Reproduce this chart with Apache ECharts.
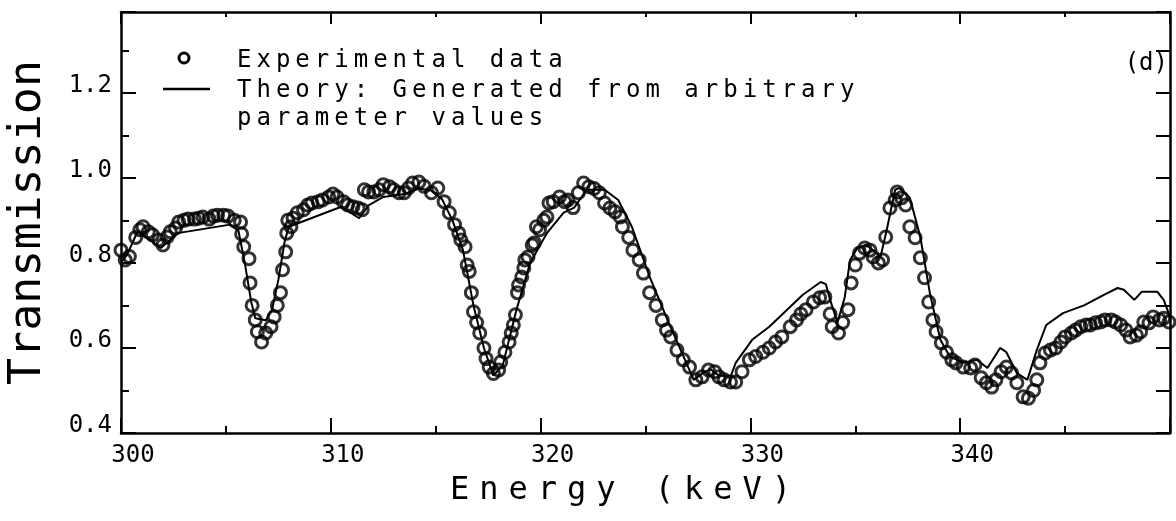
<!DOCTYPE html>
<html lang="en">
<head>
<meta charset="UTF-8">
<title>Transmission (d)</title>
<script src="https://cdn.jsdelivr.net/npm/echarts@6/dist/echarts.min.js"></script>
<style>html,body{margin:0;padding:0;background:#fff}</style>
</head>
<body>
<div id="main" style="width:1176px;height:521px"></div>
<script type="text/javascript">
// canvas text has no letter spacing option in echarts, so a dummy family "lsN" in the font means N px
var _fillText = CanvasRenderingContext2D.prototype.fillText;
CanvasRenderingContext2D.prototype.fillText = function () {
    var m = /ls(\d+)/.exec(this.font);
    this.letterSpacing = m ? m[1] + 'px' : '0px';
    return _fillText.apply(this, arguments);
};
function fam(ls) { return '"DejaVu Sans Mono", ls' + ls; }

// experimental points (keV, transmission)
var expE = [300.0,300.2,300.4,300.7,300.9,301.05,301.3,301.5,301.8,302.0,302.2,302.35,302.6,302.75,303.0,303.2,303.5,303.7,303.9,304.2,304.4,304.6,304.9,305.1,305.4,305.7,305.75,305.85,306.1,306.15,306.25,306.4,306.5,306.7,306.9,307.15,307.3,307.45,307.6,307.7,307.85,307.9,307.95,308.1,308.2,308.4,308.7,308.9,309.1,309.4,309.6,309.9,310.1,310.3,310.6,310.8,311.05,311.3,311.5,311.6,311.8,312.05,312.3,312.5,312.8,313.0,313.25,313.5,313.7,313.9,314.2,314.45,314.8,315.1,315.4,315.65,315.9,316.1,316.2,316.4,316.5,316.6,316.7,316.8,316.95,317.1,317.3,317.4,317.55,317.75,318.0,318.1,318.3,318.5,318.6,318.7,318.8,318.9,318.95,319.1,319.2,319.25,319.4,319.6,319.7,319.8,319.95,320.15,320.3,320.4,320.6,320.9,321.15,321.3,321.55,321.8,322.05,322.3,322.55,322.8,323.05,323.3,323.55,323.8,323.9,324.2,324.4,324.7,324.9,325.2,325.5,325.8,326.0,326.2,326.5,326.8,327.1,327.4,327.7,328.0,328.3,328.5,328.75,329.05,329.3,329.6,329.95,330.25,330.6,330.9,331.2,331.5,331.9,332.2,332.4,332.65,333.0,333.3,333.55,333.8,333.9,334.2,334.4,334.65,334.8,335.0,335.2,335.45,335.7,335.85,336.1,336.3,336.45,336.65,336.9,337.0,337.2,337.4,337.6,337.85,338.1,338.3,338.5,338.7,338.85,339.1,339.35,339.6,339.8,340.15,340.5,340.7,341.0,341.25,341.5,341.7,341.95,342.2,342.45,342.7,343.0,343.25,343.5,343.65,343.8,344.05,344.3,344.55,344.8,345.0,345.3,345.5,345.75,346.0,346.2,346.45,346.7,346.9,347.2,347.4,347.65,347.9,348.1,348.4,348.6,348.75,349.0,349.2,349.5,349.7,349.95];
var expT = [0.83,0.807,0.815,0.86,0.878,0.885,0.873,0.866,0.854,0.842,0.861,0.873,0.882,0.896,0.90,0.903,0.903,0.905,0.908,0.903,0.91,0.912,0.912,0.91,0.90,0.896,0.868,0.838,0.81,0.753,0.70,0.666,0.638,0.614,0.635,0.65,0.673,0.70,0.73,0.784,0.826,0.87,0.90,0.885,0.905,0.918,0.925,0.936,0.941,0.944,0.948,0.955,0.962,0.955,0.944,0.936,0.932,0.929,0.925,0.972,0.967,0.967,0.972,0.984,0.979,0.972,0.965,0.965,0.976,0.988,0.99,0.98,0.965,0.976,0.944,0.918,0.89,0.87,0.854,0.838,0.795,0.78,0.73,0.685,0.66,0.635,0.60,0.575,0.555,0.54,0.548,0.567,0.59,0.614,0.635,0.654,0.678,0.73,0.748,0.767,0.788,0.807,0.814,0.842,0.847,0.885,0.878,0.90,0.908,0.941,0.944,0.955,0.944,0.948,0.93,0.965,0.988,0.979,0.975,0.965,0.941,0.929,0.92,0.908,0.885,0.86,0.83,0.807,0.776,0.73,0.70,0.666,0.642,0.626,0.595,0.572,0.555,0.525,0.532,0.548,0.544,0.532,0.525,0.52,0.52,0.544,0.572,0.58,0.59,0.60,0.614,0.626,0.65,0.666,0.68,0.69,0.708,0.718,0.72,0.68,0.65,0.635,0.66,0.69,0.753,0.795,0.823,0.835,0.83,0.814,0.80,0.807,0.861,0.929,0.948,0.967,0.953,0.936,0.885,0.859,0.812,0.765,0.708,0.666,0.638,0.612,0.59,0.572,0.565,0.555,0.553,0.56,0.53,0.518,0.508,0.525,0.544,0.555,0.541,0.518,0.485,0.482,0.50,0.525,0.565,0.588,0.595,0.60,0.614,0.626,0.635,0.642,0.65,0.654,0.654,0.659,0.661,0.666,0.666,0.661,0.654,0.642,0.626,0.63,0.638,0.661,0.659,0.673,0.666,0.67,0.661];

// theory curve
var thE = [300.0,300.3,300.8,301.9,302.7,305.2,305.6,305.9,306.2,306.4,306.9,307.2,307.5,307.8,308.0,310.5,311.35,311.8,312.5,313.5,314.2,314.8,315.3,315.8,316.3,316.8,317.3,317.75,318.2,318.85,319.5,320.3,321.1,321.6,322.2,323.05,323.7,324.35,325.2,326.1,327.3,327.7,328.1,328.5,329.05,329.3,330.1,330.9,332.5,333.35,333.6,333.8,334.15,334.5,334.75,335.1,335.5,335.85,336.2,336.5,336.9,337.1,337.6,338.1,338.55,339.05,339.5,340.15,340.8,341.3,341.9,342.2,342.7,343.2,343.65,344.1,344.9,345.9,346.85,347.5,347.8,348.3,348.65,349.4,349.7,350.0];
var thT = [0.80,0.82,0.875,0.835,0.87,0.89,0.875,0.80,0.71,0.67,0.665,0.69,0.76,0.85,0.885,0.932,0.905,0.935,0.955,0.962,0.975,0.97,0.95,0.90,0.83,0.70,0.60,0.535,0.56,0.69,0.80,0.87,0.918,0.93,0.972,0.972,0.948,0.885,0.767,0.66,0.525,0.54,0.55,0.535,0.532,0.565,0.62,0.65,0.725,0.755,0.75,0.713,0.66,0.72,0.807,0.835,0.842,0.83,0.814,0.878,0.972,0.976,0.953,0.861,0.73,0.62,0.58,0.565,0.572,0.553,0.60,0.59,0.541,0.525,0.595,0.654,0.682,0.70,0.725,0.741,0.737,0.713,0.732,0.732,0.713,0.673];

var legendRows = ['Experimental data', 'Theory: Generated from arbitrary', 'parameter values'];
var panelTag = '(d)';

var myChart = echarts.init(document.getElementById('main'));

var black = '#000';
function xAx(pos, showLabel) {
    return {
        type: 'value', position: pos, min: 300, max: 350, interval: 10,
        axisLine: {show: true, onZero: false, lineStyle: {color: black, width: 2.5}},
        axisTick: {show: true, inside: true, length: pos === 'bottom' ? 15 : 12, lineStyle: {color: black, width: 2}},
        minorTick: {show: true, splitNumber: 2, length: pos === 'bottom' ? 7 : 5, lineStyle: {color: black, width: 2}},
        splitLine: {show: false},
        axisLabel: {
            show: showLabel, color: black, fontSize: 24, fontFamily: fam(0), margin: 11,
            padding: [0, 0, 0, 24],
            formatter: function (v) { return v < 350 ? String(v) : ''; }
        }
    };
}
function yAx(pos, showLabel) {
    return {
        type: 'value', position: pos, min: 0.4, max: 1.39, interval: 0.2,
        axisLine: {show: true, onZero: false, lineStyle: {color: black, width: 2.5}},
        axisTick: {show: true, inside: true, length: pos === 'left' ? 15 : 14, lineStyle: {color: black, width: 2}},
        minorTick: {show: true, splitNumber: 2, length: pos === 'left' ? 8 : 14, lineStyle: {color: black, width: 2}},
        splitLine: {show: false},
        axisLabel: {
            show: showLabel, color: black, fontSize: 24, fontFamily: fam(0), margin: 9,
            verticalAlign: 'bottom', lineHeight: 14,
            formatter: function (v) { return v < 1.21 ? v.toFixed(1) : ''; }
        }
    };
}

var xBottom = xAx('bottom', true);
xBottom.name = 'Energy (keV)';
xBottom.nameLocation = 'middle';
xBottom.nameGap = 42;
xBottom.nameTextStyle = {color: black, fontSize: 32, fontFamily: fam(10), padding: [0, 40, 0, 0]};

var yLeft = yAx('left', true);
yLeft.name = 'Transmission';
yLeft.nameLocation = 'middle';
yLeft.nameGap = 70;
yLeft.nameTextStyle = {color: black, fontSize: 45, fontFamily: fam(0)};

myChart.setOption({
    animation: false,
    backgroundColor: '#fff',
    grid: {left: 121, right: 6, top: 12, bottom: 88, containLabel: false, outerBoundsMode: 'none'},
    xAxis: [xBottom, xAx('top', false)],
    yAxis: [yLeft, yAx('right', false)],
    series: [{
        name: 'Theory',
        type: 'line',
        data: thE.map(function (e, i) { return [e, thT[i]]; }),
        showSymbol: false,
        symbol: 'none',
        lineStyle: {color: black, width: 2},
        z: 2,
        silent: true
    }, {
        name: 'Experimental data',
        type: 'scatter',
        data: expE.map(function (e, i) { return [e, expT[i]]; }),
        symbol: 'circle',
        symbolSize: 12,
        clip: false,
        itemStyle: {color: 'rgba(0,0,0,0)', borderColor: black, borderWidth: 3},
        z: 3,
        silent: true
    }],
    graphic: [
        {type: 'circle', shape: {cx: 184, cy: 58, r: 5}, style: {fill: 'none', stroke: black, lineWidth: 3}},
        {type: 'line', shape: {x1: 163, y1: 89, x2: 210, y2: 89}, style: {stroke: black, lineWidth: 2.5}},
        {type: 'text', x: 237, y: 61, style: {text: legendRows[0], fontSize: 24, fontFamily: fam(5), fill: black, verticalAlign: 'middle'}},
        {type: 'text', x: 237, y: 91, style: {text: legendRows[1], fontSize: 24, fontFamily: fam(5), fill: black, verticalAlign: 'middle'}},
        {type: 'text', x: 237, y: 119, style: {text: legendRows[2], fontSize: 24, fontFamily: fam(5), fill: black, verticalAlign: 'middle'}},
        {type: 'text', x: 1168, y: 64, style: {text: panelTag, fontSize: 24, fontFamily: fam(0), fill: black, align: 'right', verticalAlign: 'middle'}}
    ]
});
</script>
</body>
</html>
